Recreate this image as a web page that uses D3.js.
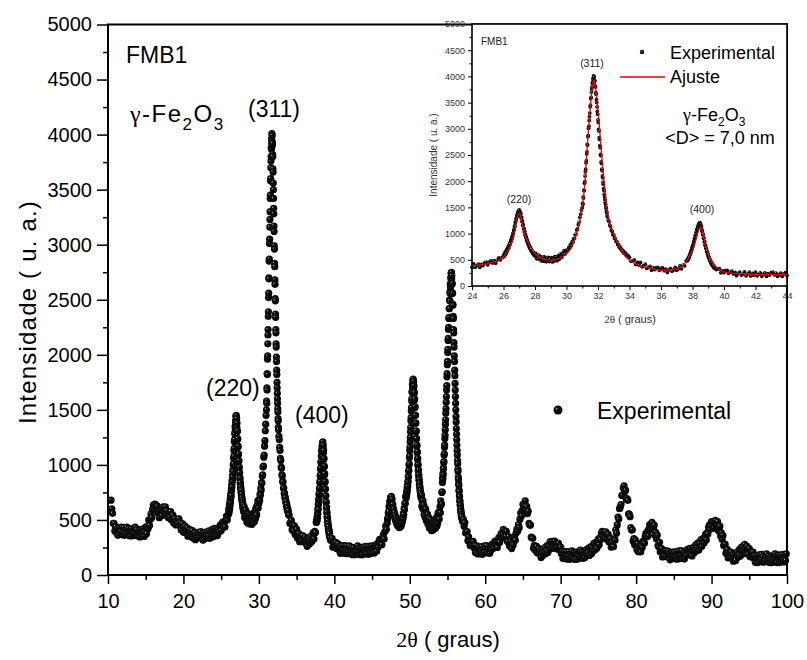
<!DOCTYPE html>
<html>
<head>
<meta charset="utf-8">
<script src="https://cdn.jsdelivr.net/npm/d3@7"></script>
<style>
  body { margin: 0; background: #fff; }
  text { font-family: "Liberation Sans", Arial, sans-serif; fill: #000; }
</style>
</head>
<body>
<div id="chart"></div>
<script>
// XRD scan (denser steps over the peaks)
const segStarts = [10.4, 26.0, 28.05, 31.0, 32.65, 34.0, 37.65, 39.5, 47.0, 49.525, 51.55, 54.325, 57.0];
const segSteps  = [0.1, 0.025, 0.05, 0.02, 0.05, 0.1, 0.025, 0.1, 0.05, 0.025, 0.05, 0.025, 0.1];

const seg01 = [680,600,560,470,470,400,
  440,390,420,360,405,430,375,395,435,365, 390,430,360,410,375,435,365,395,420,355,
  395,420,355,405,380,425,435,385,415,355, 375,405,345,390,415,360,380,420,350,400,
  435,375,440,420,500,450,505,555,520,595, 635,590,645,610,635,625,560,580,520,570,
  590,538,590,620,567,585,620,543,585,542, 520,563,522,576,500,524,543,472,516,485,
  454,498,467,506,510,453,476,409,447,465, 388,426,444,382,395,429,353,397,357,412,
  383,346,404,333,362,386,320,369,343,387, 366,340,385,395,345,375,316,362,388,334,
  365,391,337,359,401,333,385,352,415,347, 360,423,356,390,419,358,412,391,440,455,
  405,460,480,440,482,435,495,535,500,540];
const seg02 = [590,560,610,585,640,600,660,630,690,660,720,700,745,720,780,770,820,800,860,850,
  900,890,950,940,1000,1010,1060,1080,1130,1150,1210,1230,1290,1280,1350,1330,1400,1370,1440,1390,
  1450,1380,1420,1340,1380,1300,1310,1230,1240,1160,1170,1090,1100,1030,1040,970,980,920,930,870,
  880,830,840,790,800,750,770,720,735,690,705,665,680,640,655,615,635,595,615,575,600];
const seg03 = [620,525,575,517,590,518,562,481,531,552, 473,555,492,465,533,497,546,466,516,477,
  543,460,522,475,559,498,553,484,546,579, 513,608,559,546,629,608,673,609,676,655,
  690,680,735,725,790,770,840,835,900,910,980,990,1070,1090,1170,1220,1310,1370,1450];
const seg04 = [1500,1580,1560,1700,1680,1830,1820,1960,1990,2100,2180,2230,2350,2390,2520,2560,2700,2690,2850,2870,
  3010,3050,3160,3230,3300,3420,3450,3580,3600,3700,3760,3800,3880,3870,3960,3920,4010,3940,3990,3900,
  3920,3820,3800,3690,3660,3560,3500,3420,3330,3280,3170,3120,2990,2960,2830,2800,2680,2640,2510,2490,
  2370,2340,2230,2200,2100,2070,1980,1940,1860,1820,1750,1700,1650,1600,1560,1510,1480,1420,1400,1340,1320];
const seg05 = [1260,1230,1160,1130,1060,1040,980,970,910,900,850,845,790,790,740,745,700,705,660,670,
  625,640,595,610,570,585,545];
const seg06 = [545,470,473,497,412,448,400,448,367,386, 416,337,358,375,302,345,313,352,357,302,
  338,345,292,320,260,306,333,282,307,353, 301,331,383,328,397,385,480];
const seg07 = [480,500,495,530,520,560,555,600,595,640,640,680,690,730,740,780,790,840,850,900,
  910,960,970,1020,1030,1080,1080,1130,1120,1170,1150,1200,1160,1210,1150,1180,1110,1130,1050,1060,
  980,990,910,920,840,850,780,780,720,720,660,665,610,615,565,570,525,530,485,495,
  450,465,420,440,395,415,375,395,355,375,340];
const seg08 = [315,325,333,253,290,255,292,296,240,266, 282,230,258,197,241,265,209,228,267,196,
  225,264,193,242,206,265,195,225,250,185, 225,250,185,235,210,255,265,215,245,185,
  215,245,185,230,255,200,220,260,190,240, 260,190,240,205,265,198,232,261,200,255,
  275,215,271,253,305,323,282,322,275,335, 368,328,395,445,415];
const seg09 = [470,505,520,560,575,620,630,670,665,705,680,715,670,690,635,640,590,600,555,570,
  525,545,500,525,480,505,460,490,445,480,440,470,430,465,435,470,440,480,455,495,
  480,525,510,560,550,605,595,650,650,710,715];
const seg10 = [700,735,720,760,745,790,770,815,805,850,845,895,890,945,950,1000,1010,1065,1080,1130,
  1160,1210,1250,1300,1340,1400,1430,1490,1520,1580,1600,1660,1670,1730,1710,1770,1740,1780,1730,1760,
  1700,1720,1650,1660,1590,1600,1520,1530,1450,1450,1380,1380,1300,1310,1240,1240,1170,1180,1110,1120,
  1050,1060,995,1005,945,955,900,910,860,870,825,835,790,800,760,770,730,745,705,720];
const seg11 = [725,625,670,607,675,598,636,550,594,608, 523,598,528,493,554,510,552,464,507,460,
  518,427,481,426,502,433,480,403,457,482, 408,495,438,417,485,450,490,425,480,445,
  523,445,513,472,562,508,570,508,578,620, 565,673,640,645,750,755];
const seg12 = [840,880,870,920,910,970,965,1020,1030,1090,1100,1160,1180,1240,1270,1320,1370,1410,1470,1510,
  1570,1620,1680,1720,1800,1830,1910,1940,2020,2050,2130,2150,2230,2250,2330,2340,2420,2420,2500,2490,
  2570,2560,2640,2610,2700,2650,2740,2680,2750,2690,2720,2640,2650,2560,2560,2460,2450,2350,2330,2230,
  2200,2110,2070,1990,1940,1860,1810,1740,1680,1620,1560,1500,1440,1390,1330,1280,1230,1180,1130,1090,
  1040,1010,960,940,890,870,830,815,770,760,720,715,675,670,635,635,600,600,570,575,540,550,515,530];
const seg13 = [485,505,442,476,382,390,395,312,346,306, 267,305,269,304,305,247,270,204,244,265,
  191,233,256,199,218,257,187,237,203,264, 240,206,268,200,232,259,197,250,229,278,
  262,242,292,308,265,302,250,304,339,295, 337,375,333,365,415,350,397,352,397,310,
  303,348,266,287,307,240,292,273,328,352, 315,382,418,397,458,430,507,563,537,585,
  642,603,632,673,593,623,558,580,468,455, 453,344,339,333,242,270,228,260,260,202,
  236,242,190,219,159,205,232,180,204,249, 194,220,267,204,262,235,303,240,276,305,
  253,284,308,240,285,253,289,288,226,244, 253,193,215,149,190,212,155,174,213,143,
  173,213,143,193,158,219,149,180,205,141, 182,207,143,194,170,216,227,178,209,150,
  182,214,156,203,230,178,201,244,178,232, 257,192,248,220,287,225,264,298,243,303,
  329,275,336,322,377,396,354,390,334,380, 392,325,359,370,300,305,332,252,297,263,
  257,325,316,410,380,455,527,508,602,617, 640,722,725,790,810,755,770,685,695,678,
  555,553,530,430,408,411,308,331,274,316, 277,232,285,212,242,269,209,266,250,306,
  299,289,350,378,347,397,356,419,458,414, 451,478,419,429,453,362,388,328,362,268,
  256,297,210,226,239,164,206,175,215,222, 165,209,218,168,198,138,183,208,153,173,
  208,153,173,213,143,193,158,219,149,180, 221,152,183,209,145,197,174,221,233,186,
  229,242,195,229,173,222,252,202,227,273, 219,245,291,227,283,255,322,260,299,334,
  290,332,370,319,383,372,431,454,416,457, 486,444,480,424,471,496,439,454,486,405,
  421,444,354,382,324,360,267,275,280,197, 221,232,155,195,162,201,207,155,184,125,
  156,188,131,180,210,161,187,234,171,228, 255,191,247,216,279,210,239,261,191,234,
  240,165,204,169,205,208,152,178,115,158, 172,112,157,182,127,147,187,117,167,132,
  117,167,132,192,122,152,177,112,162,137, 112,162,137,182,192,142,172,112,157,182,
  112,157,182,127,147,187,117,167,132,192];
const segValues = [seg01, seg02, seg03, seg04, seg05, seg06, seg07, seg08, seg09, seg10, seg11, seg12, seg13];

// fitted profile shown in the inset ("Ajuste")
const fitTheta = [24,24.5,25,25.5,25.8,26,26.2,26.4,26.5,26.6,26.7,26.8,26.9,27,27.1,27.2,27.3,27.4,27.5,27.7,
  28,28.5,29,29.5,30,30.3,30.5,30.7,30.9,31,31.1,31.2,31.3,31.4,31.5,31.6,31.7,31.75,31.8,31.9,
  32,32.1,32.2,32.3,32.4,32.5,32.7,33,33.5,34,34.5,35,35.5,36,36.5,37,37.3,37.5,37.7,38,
  38.2,38.35,38.5,38.65,38.8,39,39.2,39.5,40,40.5,41,42,43,44];
const fitIntensity = [395,405,427,470,510,554,630,740,809,900,1030,1190,1330,1382,1320,1170,1030,940,873,750,
  618,522,490,522,618,730,873,1060,1330,1510,1750,2100,2590,3000,3357,3700,3900,3930,3880,3640,
  3357,3000,2620,2270,1940,1637,1260,1000,680,490,410,363,325,300,305,331,370,427,510,680,
  860,1030,1127,1040,820,618,480,363,267,245,235,223,223,223];

const xTicks = d3.range(10, 101, 10);
const yTicks = d3.range(0, 5001, 500);
const insetXTicks = d3.range(24, 45, 2);

const expData = [];
segValues.forEach((vals, k) => {
  vals.forEach((v, i) => expData.push({ x: segStarts[k] + i * segSteps[k], y: v }));
});

const svg = d3.select("#chart").append("svg")
  .attr("width", 807)
  .attr("height", 660);

// shaded ball marker like the original plot (black with a small glint)
const defs = svg.append("defs");
const ball = defs.append("radialGradient").attr("id", "ball")
  .attr("cx", "35%").attr("cy", "35%").attr("r", "70%");
ball.append("stop").attr("offset", "0%").attr("stop-color", "#dcdcdc");
ball.append("stop").attr("offset", "7%").attr("stop-color", "#777");
ball.append("stop").attr("offset", "20%").attr("stop-color", "#151515");
ball.append("stop").attr("offset", "100%").attr("stop-color", "#000");

// main plot
const x = d3.scaleLinear().domain([10, 100]).range([108, 787]);
const y = d3.scaleLinear().domain([0, 5000]).range([575, 24.5]);
const fmt = d3.format("d");

function styleAxis(g, size) {
  g.attr("font-family", null).attr("font-size", null);
  g.select(".domain").remove();
  g.selectAll("line").attr("stroke", "#000").attr("stroke-width", 1.5);
  g.selectAll("text").style("font-size", size + "px");
}

svg.append("g").attr("transform", "translate(0,575)")
  .call(d3.axisBottom(x).tickValues(xTicks).tickSize(9).tickPadding(10).tickFormat(fmt))
  .call(g => styleAxis(g, 20));
svg.append("g").attr("transform", "translate(0,575)")
  .call(d3.axisBottom(x).tickValues(d3.range(15, 100, 10)).tickSize(5).tickFormat(""))
  .call(g => styleAxis(g, 20));
svg.append("g").attr("transform", "translate(108,0)")
  .call(d3.axisLeft(y).tickValues(yTicks).tickSize(11).tickPadding(5).tickFormat(fmt))
  .call(g => styleAxis(g, 20));
svg.append("g").attr("transform", "translate(108,0)")
  .call(d3.axisLeft(y).tickValues(d3.range(250, 5000, 500)).tickSize(5).tickFormat(""))
  .call(g => styleAxis(g, 20));

svg.append("g").selectAll("circle")
  .data(expData)
  .enter().append("circle")
  .attr("cx", d => x(d.x))
  .attr("cy", d => y(d.y))
  .attr("r", 3.6)
  .attr("fill", "url(#ball)");

svg.append("rect")
  .attr("x", 108).attr("y", 24.5)
  .attr("width", 679).attr("height", 550.5)
  .attr("fill", "none").attr("stroke", "#000").attr("stroke-width", 2);

// axis titles
svg.append("text")
  .attr("transform", "translate(36,312) rotate(-90)")
  .attr("text-anchor", "middle")
  .style("font-size", "24px")
  .style("letter-spacing", "1.2px")
  .text("Intensidade ( u. a.)");

const xTitle = svg.append("text")
  .attr("x", 448).attr("y", 647)
  .attr("text-anchor", "middle")
  .style("font-size", "22px");
xTitle.append("tspan").style("font-family", "'Liberation Serif', serif").text("2θ");
xTitle.append("tspan").text(" ( graus)");

// annotations
svg.append("text").attr("x", 126).attr("y", 63).style("font-size", "23px").text("FMB1");

const phase = svg.append("text").attr("x", 130).attr("y", 122)
  .style("font-size", "24px").style("letter-spacing", "1.5px");
phase.append("tspan").style("font-family", "'Liberation Serif', serif").text("γ");
phase.append("tspan").text("-Fe");
phase.append("tspan").attr("dy", 8).style("font-size", "17px").text("2");
phase.append("tspan").attr("dy", -8).text("O");
phase.append("tspan").attr("dy", 8).style("font-size", "17px").text("3");

svg.append("text").attr("x", 248).attr("y", 117).style("font-size", "23px").text("(311)");
svg.append("text").attr("x", 206).attr("y", 396).style("font-size", "23px").text("(220)");
svg.append("text").attr("x", 295).attr("y", 423).style("font-size", "23px").text("(400)");

// legend
svg.append("circle").attr("cx", 558).attr("cy", 410).attr("r", 4.5).attr("fill", "url(#ball)");
svg.append("text").attr("x", 597).attr("y", 419).style("font-size", "23px").text("Experimental");

// inset
const ix = d3.scaleLinear().domain([24, 44]).range([472, 787]);
const iy = d3.scaleLinear().domain([0, 5000]).range([286, 24]);
const inset = svg.append("g");

inset.append("rect")
  .attr("x", 472).attr("y", 24).attr("width", 315).attr("height", 262)
  .attr("fill", "#fff");

function styleInset(g) {
  g.attr("font-family", null).attr("font-size", null);
  g.select(".domain").remove();
  g.selectAll("line").attr("stroke", "#000").attr("stroke-width", 1);
  g.selectAll("text").style("font-size", "9px").style("fill", "#333");
}
inset.append("g").attr("transform", "translate(0,286)")
  .call(d3.axisBottom(ix).tickValues(insetXTicks).tickSize(4).tickPadding(3).tickFormat(fmt))
  .call(styleInset);
inset.append("g").attr("transform", "translate(0,286)")
  .call(d3.axisBottom(ix).tickValues(d3.range(25, 44, 2)).tickSize(2.5).tickFormat(""))
  .call(styleInset);
inset.append("g").attr("transform", "translate(472,0)")
  .call(d3.axisLeft(iy).tickValues(yTicks).tickSize(4).tickPadding(3).tickFormat(fmt))
  .call(styleInset);
inset.append("g").attr("transform", "translate(472,0)")
  .call(d3.axisLeft(iy).tickValues(d3.range(250, 5000, 500)).tickSize(2.5).tickFormat(""))
  .call(styleInset);

inset.append("g").selectAll("circle")
  .data(expData.filter(d => d.x >= 24 && d.x <= 44))
  .enter().append("circle")
  .attr("cx", d => ix(d.x))
  .attr("cy", d => iy(d.y))
  .attr("r", 1.9)
  .attr("fill", "url(#ball)");

const fitLine = d3.line()
  .x((d, i) => ix(fitTheta[i]))
  .y(d => iy(d))
  .curve(d3.curveMonotoneX);
inset.append("path")
  .attr("d", fitLine(fitIntensity))
  .attr("fill", "none")
  .attr("stroke", "#e8000b")
  .attr("stroke-width", 1.3);

inset.append("rect")
  .attr("x", 472).attr("y", 24).attr("width", 315).attr("height", 262)
  .attr("fill", "none").attr("stroke", "#000").attr("stroke-width", 1.6);

inset.append("text")
  .attr("transform", "translate(437,155) rotate(-90)")
  .attr("text-anchor", "middle")
  .style("font-size", "10px").style("fill", "#333")
  .text("Intensidade ( u. a.)");
const ixTitle = inset.append("text")
  .attr("x", 630).attr("y", 323)
  .attr("text-anchor", "middle")
  .style("font-size", "11px").style("fill", "#333");
ixTitle.append("tspan").style("font-family", "'Liberation Serif', serif").text("2θ");
ixTitle.append("tspan").text(" ( graus)");

inset.append("text").attr("x", 481).attr("y", 45).style("font-size", "10px").style("fill", "#222").text("FMB1");
inset.append("text").attr("x", 592).attr("y", 67).attr("text-anchor", "middle").style("font-size", "10.5px").style("fill", "#222").text("(311)");
inset.append("text").attr("x", 519).attr("y", 203).attr("text-anchor", "middle").style("font-size", "10.5px").style("fill", "#222").text("(220)");
inset.append("text").attr("x", 702).attr("y", 213).attr("text-anchor", "middle").style("font-size", "10.5px").style("fill", "#222").text("(400)");

inset.append("circle").attr("cx", 642).attr("cy", 52).attr("r", 2.2).attr("fill", "url(#ball)");
inset.append("text").attr("x", 670).attr("y", 59).style("font-size", "18px").text("Experimental");
inset.append("line")
  .attr("x1", 620).attr("x2", 665).attr("y1", 77).attr("y2", 77)
  .attr("stroke", "#e8000b").attr("stroke-width", 1.3);
inset.append("text").attr("x", 670).attr("y", 83).style("font-size", "18px").text("Ajuste");

const iphase = inset.append("text").attr("x", 683).attr("y", 121).style("font-size", "18px");
iphase.append("tspan").style("font-family", "'Liberation Serif', serif").text("γ");
iphase.append("tspan").text("-Fe");
iphase.append("tspan").attr("dy", 5).style("font-size", "12px").text("2");
iphase.append("tspan").attr("dy", -5).text("O");
iphase.append("tspan").attr("dy", 5).style("font-size", "12px").text("3");
inset.append("text").attr("x", 720).attr("y", 144).attr("text-anchor", "middle").style("font-size", "18px").text("<D> = 7,0 nm");
</script>
</body>
</html>
